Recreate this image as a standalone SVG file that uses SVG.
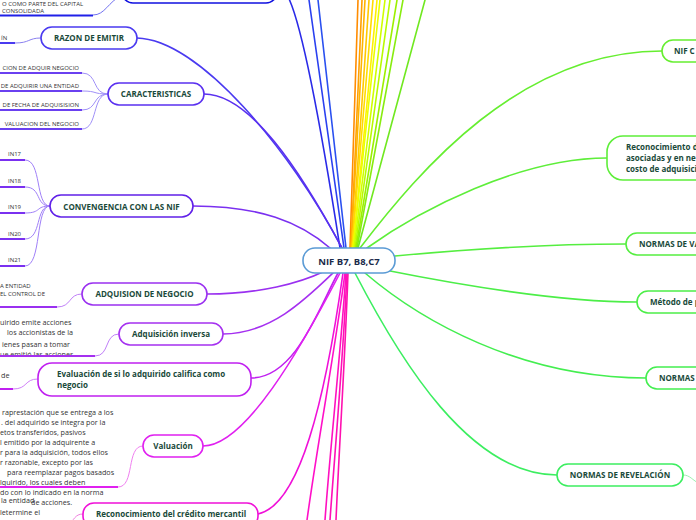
<svg xmlns="http://www.w3.org/2000/svg" width="696" height="520" viewBox="0 0 696 520">
<style>
.n{fill:#fff;stroke-width:1.6}
.t{font-family:"Open Sans","Noto Sans",sans-serif;font-weight:bold;font-size:8px;fill:#1a4a3a}
.tc{font-family:"Open Sans","Noto Sans",sans-serif;font-weight:bold;font-size:9.5px;fill:#1a2a4a;text-anchor:middle}
.m{text-anchor:middle}
.l{font-family:"Open Sans","Noto Sans",sans-serif;font-size:6px;fill:#333}
.p{font-family:"Open Sans","Noto Sans",sans-serif;font-size:7.2px;fill:#333}
.c{fill:none;stroke-width:1.6;stroke-linecap:round}
.lc{fill:none;stroke-width:1}
.u{fill:none;stroke-width:2}
</style>
<rect width="696" height="520" fill="#fff"/>
<g id="connectors">
  <path class="c" stroke="#2a2ae8" d="M285,-8 C300,10 320,120 340,248"/>
  <path class="c" stroke="#2a40f0" d="M309,0 L344,248"/>
  <path class="c" stroke="#2a50f0" d="M318,0 L346,248"/>
  <path class="c" stroke="#ff8c00" d="M358,0 L350,248"/>
  <path class="c" stroke="#ffa000" d="M362,0 L351,248"/>
  <path class="c" stroke="#ffb400" d="M365,0 L351,248"/>
  <path class="c" stroke="#ffc800" d="M369,0 L352,248"/>
  <path class="c" stroke="#ffdc00" d="M373,0 L352,248"/>
  <path class="c" stroke="#fff000" d="M377,0 L353,248"/>
  <path class="c" stroke="#eaff00" d="M380,0 L353,248"/>
  <path class="c" stroke="#d0ff00" d="M385,0 L354,248"/>
  <path class="c" stroke="#b8fa00" d="M390,0 L355,248"/>
  <path class="c" stroke="#9cf000" d="M397,0 L356,248"/>
  <path class="c" stroke="#88ec10" d="M403,0 L357,248"/>
  <path class="c" stroke="#70e820" d="M425,0 L358,248"/>
  <path class="c" stroke="#4a3af0" d="M137,38 C200,40 290,150 342,248"/>
  <path class="c" stroke="#5a30f0" d="M204,94 C250,94 300,170 342,248"/>
  <path class="c" stroke="#7a30f0" d="M193,206 C260,206 300,222 330,248"/>
  <path class="c" stroke="#9a30f0" d="M207,294 C260,294 300,283 325,271"/>
  <path class="c" stroke="#a530f0" d="M223,334 C270,334 305,300 333,273"/>
  <path class="c" stroke="#c020f0" d="M251,378 C295,378 318,310 338,273"/>
  <path class="c" stroke="#e020f0" d="M203,446 C245,446 300,350 340,273"/>
  <path class="c" stroke="#f010d8" d="M258,514 C300,505 325,400 343,273"/>
  <path class="c" stroke="#ff10c8" d="M345,273 C335,350 318,440 307,520"/>
  <path class="c" stroke="#ff10c0" d="M346,273 C340,360 330,450 325,520"/>
  <path class="c" stroke="#ff10b8" d="M347,273 C343,360 335,450 330,520"/>
  <path class="c" stroke="#ff10b0" d="M348,273 C345,360 339,450 336,520"/>
  <path class="c" stroke="#66ee30" d="M360,248 C420,170 520,51 662,51"/>
  <path class="c" stroke="#5eee3a" d="M367,248 C420,210 520,158 607,158"/>
  <path class="c" stroke="#55ee40" d="M395,256 C480,248 560,244 626,244"/>
  <path class="c" stroke="#4cee48" d="M385,270 C460,285 560,302 637,302"/>
  <path class="c" stroke="#44ee50" d="M365,273 C420,320 520,378 646,378"/>
  <path class="c" stroke="#3cee60" d="M355,273 C400,360 470,475 557,475"/>
  <path class="lc" stroke="#9cf0b0" d="M683,475 C690,475 692,480 700,484"/>
  <path class="lc" stroke="#7070f0" d="M93,15 C105,15 108,2 122,-5"/>
  <path class="lc" stroke="#8a80f0" d="M15,43 C30,43 28,38 41,38"/>
  <path class="lc" stroke="#a090f8" d="M82,73 C98,73 92,94 108,94"/>
  <path class="lc" stroke="#a090f8" d="M82,91 C98,91 92,94 108,94"/>
  <path class="lc" stroke="#a090f8" d="M82,110 C98,110 92,94 108,94"/>
  <path class="lc" stroke="#a090f8" d="M82,129 C98,129 92,94 108,94"/>
  <path class="lc" stroke="#a080f8" d="M25,160 C42,160 35,206 50,206"/>
  <path class="lc" stroke="#a080f8" d="M25,187 C42,187 35,206 50,206"/>
  <path class="lc" stroke="#a080f8" d="M25,213 C42,213 35,206 50,206"/>
  <path class="lc" stroke="#a080f8" d="M25,239 C42,239 35,206 50,206"/>
  <path class="lc" stroke="#a080f8" d="M25,266 C42,266 35,206 50,206"/>
  <path class="lc" stroke="#c080f8" d="M57,307 C72,307 68,294 82,294"/>
  <path class="lc" stroke="#c080f8" d="M95,356 C110,356 104,334 119,334"/>
  <path class="lc" stroke="#d080f8" d="M13,389 C28,389 24,379 38,379"/>
  <path class="lc" stroke="#f080f0" d="M118,487 C135,487 126,446 143,446"/>
  <path class="lc" stroke="#f080e0" d="M83,514 C75,514 74,520 68,526"/>
</g>
<g id="center"><rect class="n" stroke="#5b9bd5" x="303" y="248" width="92" height="25" rx="12"/><text class="tc" x="349" y="264.5">NIF B7, B8,C7</text></g>
<g id="n-top"><rect class="n" stroke="#1010e0" x="122" y="-20" width="155" height="23" rx="11"/>
<text class="l" x="2" y="6">O COMO PARTE DEL CAPITAL</text><text class="l" x="2" y="13">CONSOLIDADA</text><line class="u" stroke="#2020e8" x1="0" y1="15.5" x2="93" y2="15.5"/></g>
<g id="n-razon"><rect class="n" stroke="#4a3af0" x="41" y="27" width="96" height="22" rx="11"/><text class="t m" x="89" y="40.8">RAZON DE EMITIR</text>
<text class="l" x="1" y="40">ÍN</text><line class="u" stroke="#4a3af0" x1="0" y1="43" x2="15" y2="43"/></g>
<g id="n-caract"><rect class="n" stroke="#5a30f0" x="108" y="83" width="96" height="22" rx="11"/><text class="t m" x="156" y="96.8">CARACTERISTICAS</text>
<text class="l" x="79" y="69.5" text-anchor="end">CION DE ADQUIR NEGOCIO</text><line class="u" stroke="#6a40f0" x1="0" y1="73" x2="82" y2="73"/>
<text class="l" x="79" y="88" text-anchor="end">DE ADQUIRIR UNA ENTIDAD</text><line class="u" stroke="#6a40f0" x1="0" y1="91" x2="82" y2="91"/>
<text class="l" x="79" y="106.5" text-anchor="end">DE FECHA DE ADQUISISION</text><line class="u" stroke="#6a40f0" x1="0" y1="110" x2="82" y2="110"/>
<text class="l" x="79" y="126" text-anchor="end">VALUACION DEL NEGOCIO</text><line class="u" stroke="#6a40f0" x1="0" y1="129" x2="82" y2="129"/></g>
<g id="n-conv"><rect class="n" stroke="#6020e8" x="50" y="195" width="143" height="22" rx="11"/><text class="t m" x="121.5" y="209.8">CONVENGENCIA CON LAS NIF</text>
<text class="l" x="8" y="156">IN17</text><line class="u" stroke="#7a30f0" x1="0" y1="160" x2="25" y2="160"/>
<text class="l" x="8" y="183">IN18</text><line class="u" stroke="#7a30f0" x1="0" y1="187" x2="25" y2="187"/>
<text class="l" x="8" y="209">IN19</text><line class="u" stroke="#7a30f0" x1="0" y1="213" x2="25" y2="213"/>
<text class="l" x="8" y="235.5">IN20</text><line class="u" stroke="#7a30f0" x1="0" y1="239" x2="25" y2="239"/>
<text class="l" x="8" y="262">IN21</text><line class="u" stroke="#7a30f0" x1="0" y1="266" x2="25" y2="266"/></g>
<g id="n-adq"><rect class="n" stroke="#9a30f0" x="82" y="283" width="125" height="22" rx="11"/><text class="t m" x="144.5" y="296.8">ADQUISION DE NEGOCIO</text>
<text class="l" x="0" y="288">A ENTIDAD</text><text class="l" x="0" y="296">EL CONTROL DE</text><line class="u" stroke="#9a30f0" x1="0" y1="307" x2="57" y2="307"/></g>
<g id="n-inv"><rect class="n" stroke="#a530f0" x="119" y="323" width="104" height="22" rx="11"/><text class="t m" x="171" y="336.8">Adquisición inversa</text>
<text class="p" x="0" y="324.5">uirido emite acciones</text><text class="p" x="7" y="335">los accionistas de la</text><text class="p" x="2" y="346.5">ienes pasan a tomar</text><text class="p" x="0" y="357">ue emitió las acciones.</text>
<line class="u" stroke="#a530f0" x1="0" y1="356" x2="95" y2="356"/></g>
<g id="n-eval"><rect class="n" stroke="#c020f0" x="38" y="363" width="213" height="33" rx="14"/><text class="t" x="57" y="376.5">Evaluación de si lo adquirido califica como</text><text class="t" x="57" y="388">negocio</text>
<text class="p" x="1" y="378">de</text><line class="u" stroke="#c020f0" x1="0" y1="389" x2="13" y2="389"/></g>
<g id="n-val"><rect class="n" stroke="#e020f0" x="143" y="435" width="60" height="22" rx="11"/><text class="t m" x="173" y="448.8">Valuación</text>
<g class="p"><text x="2" y="415">raprestación que se entrega a los</text><text x="1" y="425">. del adquirido se integra por la</text><text x="0" y="435">etos transferidos, pasivos</text><text x="0" y="445">l emitido por la adquirente a</text><text x="0" y="455">r para la adquisición, todos ellos</text><text x="0" y="465">r razonable, excepto por las</text><text x="7" y="475">para reemplazar pagos basados</text><text x="0" y="485">lquirido, los cuales deben</text><text x="0" y="495">do con lo indicado en la norma</text><text x="31" y="505">de acciones.</text></g>
<line class="u" stroke="#e020f0" x1="0" y1="487" x2="118" y2="487"/></g>
<g id="n-rec"><rect class="n" stroke="#f010d8" x="83" y="503" width="175" height="24" rx="11"/><text class="t" x="96" y="517">Reconocimiento del crédito mercantil</text>
<text class="p" x="1" y="503">la entidad</text><text class="p" x="0" y="515">letermine el</text></g>
<g id="n-nifc"><rect class="n" stroke="#66ee30" x="662" y="40" width="80" height="22" rx="11"/><text class="t" x="674" y="53.8">NIF C</text></g>
<g id="n-recd"><rect class="n" stroke="#5eee3a" x="607" y="136" width="120" height="44" rx="16"/><text class="t" x="626" y="149.8">Reconocimiento d</text><text class="t" x="626" y="160.8">asociadas y en ne</text><text class="t" x="626" y="171.8">costo de adquisici</text></g>
<g id="n-normva"><rect class="n" stroke="#55ee40" x="626" y="233" width="100" height="22" rx="11"/><text class="t" x="639" y="246.8">NORMAS DE VA</text></g>
<g id="n-metodo"><rect class="n" stroke="#4cee48" x="637" y="291" width="100" height="22" rx="11"/><text class="t" x="650" y="304.8">Método de p</text></g>
<g id="n-normas"><rect class="n" stroke="#44ee50" x="646" y="367" width="100" height="22" rx="11"/><text class="t" x="659" y="380.8">NORMAS</text></g>
<g id="n-revel"><rect class="n" stroke="#3cee60" x="557" y="464" width="126" height="22" rx="11"/><text class="t m" x="620" y="477.8">NORMAS DE REVELACIÓN</text></g>
</svg>
